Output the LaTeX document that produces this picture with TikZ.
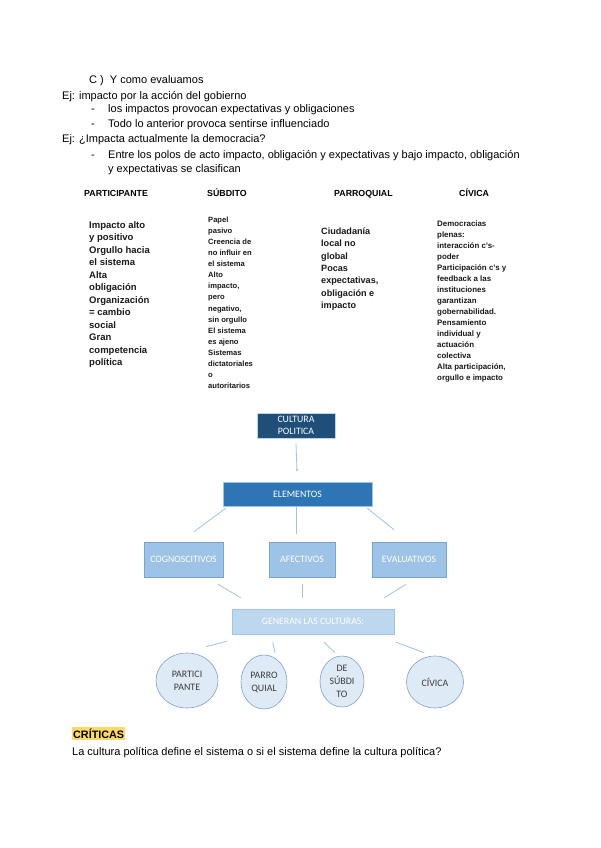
\documentclass[tikz,border=0pt]{standalone}
\usepackage{fontspec}
\setmainfont{Liberation Sans}
\newfontfamily\calibrifont{Carlito}
\usetikzlibrary{shapes.geometric,calc,arrows.meta}
\definecolor{darkbox}{RGB}{31,78,121}
\definecolor{midbox}{RGB}{46,117,182}
\definecolor{lightbox}{RGB}{157,195,230}
\definecolor{lightborder}{RGB}{120,165,210}
\definecolor{genbox}{RGB}{189,215,238}
\definecolor{ellfill}{RGB}{222,235,247}
\definecolor{ellborder}{RGB}{130,160,200}
\definecolor{connline}{RGB}{157,195,230}
\definecolor{hilite}{RGB}{255,217,102}
\definecolor{elltext}{RGB}{60,60,60}
\tikzset{
  body/.style={anchor=base west, inner sep=0pt, font=\fontsize{11pt}{13pt}\selectfont},
  head/.style={anchor=base west, inner sep=0pt, font=\fontsize{8.8pt}{10pt}\selectfont\bfseries},
  colP/.style={anchor=base west, inner sep=0pt, font=\fontsize{9.5pt}{11pt}\selectfont\bfseries, text=black!90},
  colS/.style={anchor=base west, inner sep=0pt, font=\fontsize{7.6pt}{9pt}\selectfont\bfseries, text=black!90},
  colQ/.style={anchor=base west, inner sep=0pt, font=\fontsize{9.1pt}{11pt}\selectfont\bfseries, text=black!90},
  colC/.style={anchor=base west, inner sep=0pt, font=\fontsize{7.9pt}{9pt}\selectfont\bfseries, text=black!90},
  boxtext/.style={text=white, font=\calibrifont\fontsize{9.8pt}{12pt}\selectfont, align=center, inner sep=0pt},
  elltextstyle/.style={text=elltext, font=\calibrifont\fontsize{9.9pt}{13pt}\selectfont, align=center, inner sep=0pt},
  ell/.style={ellipse, draw=ellborder, line width=0.6pt, fill=ellfill, elltextstyle},
  conn/.style={draw=connline, line width=0.8pt},
}
\begin{document}
\begin{tikzpicture}[x=1pt,y=-1pt]
\useasboundingbox[fill=white] (0,0) rectangle (600,848);
% ---- text lines ----
\node[body] (t1) at (89,84) {C )\ \ Y como evaluamos};
\node[body] (t2) at (62,100) {Ej: impacto por la acción del gobierno};
\node[body] (d1) at (91,113) {-};
\node[body] (t3) at (108,113) {los impactos provocan expectativas y obligaciones};
\node[body] (d2) at (91,127.5) {-};
\node[body] (t4) at (108,127.5) {Todo lo anterior provoca sentirse influenciado};
\node[body] (t5) at (62,142.5) {Ej: ¿Impacta actualmente la democracia?};
\node[body] (d3) at (91,158) {-};
\node[body] (t6) at (108,158) {Entre los polos de acto impacto, obligación y expectativas y bajo impacto, obligación};
\node[body] (t7) at (108,172.5) {y expectativas se clasifican};
% ---- column headers ----
\node[head] (h1) at (84,196) {PARTICIPANTE};
\node[head] (h2) at (207,196) {SÚBDITO};
\node[head] (h3) at (334,196) {PARROQUIAL};
\node[head] (h4) at (459,196) {CÍVICA};
% ---- columns ----
\foreach \t [count=\i] in {Impacto alto, y positivo, Orgullo hacia, el sistema, Alta, obligación, Organización, = cambio, social, Gran, competencia, política}
  \node[colP] (p\i) at (89,{228+12.5*(\i-1)}) {\t};
\foreach \t [count=\i] in {Papel, pasivo, Creencia de, no influir en, el sistema, Alto, {impacto,}, pero, {negativo,}, sin orgullo, El sistema, es ajeno, Sistemas, dictatoriales, o, autoritarios}
  \node[colS] (s\i) at (208,{222.5+11.07*(\i-1)}) {\t};
\foreach \t [count=\i] in {Ciudadanía, local no, global, Pocas, {expectativas,}, obligación e, impacto}
  \node[colQ] (q\i) at (321,{234.5+12.3*(\i-1)}) {\t};
\foreach \t [count=\i] in {Democracias, plenas:, interacción c's-, poder, Participación c's y, feedback a las, instituciones, garantizan, gobernabilidad., Pensamiento, individual y, actuación, colectiva, {Alta participación,}, orgullo e impacto}
  \node[colC] (c\i) at (437,{226.5+11*(\i-1)}) {\t};
% ---- diagram ----
\node[boxtext, fill=darkbox, draw=lightbox!70!white, line width=0.6pt, minimum width=78pt, minimum height=25pt] (cp) at (296,425.5) {CULTURA\\POLITICA};
\node[boxtext, fill=midbox, draw=lightbox, line width=0.6pt, minimum width=149pt, minimum height=24pt] (el) at (297.5,494) {ELEMENTOS};
\node[boxtext, fill=lightbox, draw=lightborder, line width=0.6pt, minimum width=79pt, minimum height=35pt] (cog) at (183.5,559.5) {COGNOSCITIVOS};
\node[boxtext, fill=lightbox, draw=lightborder, line width=0.6pt, minimum width=66pt, minimum height=35pt] (aff) at (302,559.5) {AFECTIVOS};
\node[boxtext, fill=lightbox, draw=lightborder, line width=0.6pt, minimum width=74pt, minimum height=35pt] (eva) at (409,559.5) {EVALUATIVOS};
\node[boxtext, fill=genbox, draw=lightbox, line width=0.6pt, minimum width=162pt, minimum height=25pt] (gen) at (313,621.5) {GENERAN LAS CULTURAS:};
\node[ell, minimum width=62pt, minimum height=55pt] (e1) at (187,680.5) {PARTICI\\PANTE};
\node[ell, minimum width=46pt, minimum height=54pt] (e2) at (264,682) {PARRO\\QUIAL};
\node[ell, minimum width=44pt, minimum height=51pt] (e3) at (342,681.5) {DE\\SÚBDI\\TO};
\node[ell, minimum width=57pt, minimum height=52pt] (e4) at (435,682) {CÍVICA};
% ---- connectors ----
\draw[conn, -{Stealth[length=3pt,width=2.5pt]}] ($(cp.south)+(0,5)$) -- ($(el.north)+(-0.5,-10)$);
\draw[conn] ($(el.south west)+(3,2)$) -- ($(cog.north)+(10.5,-10)$);
\draw[conn] ($(el.south)+(-1.5,1)$) -- ($(aff.north)+(-6,-8)$);
\draw[conn] ($(el.south east)+(-5,2)$) -- ($(eva.north)+(-15,-12)$);
\draw[conn] ($(cog.south)+(34.5,7)$) -- ($(gen.north west)+(9,-11)$);
\draw[conn] ($(aff.south)+(0,7)$) -- ($(gen.north)+(-11,-11)$);
\draw[conn] ($(eva.south)+(-3,7)$) -- ($(gen.north east)+(-10,-11)$);
\draw[conn] ($(gen.south west)+(-5,7)$) -- ($(e1.north)+(19,-6)$);
\draw[conn] ($(gen.south west)+(41,8)$) -- ($(e2.north)+(11,-2)$);
\draw[conn] ($(gen.south)+(11,8)$) -- ($(e3.north)+(-7,-3)$);
\draw[conn] ($(gen.south east)+(2,8)$) -- ($(e4.north)+(-11,-3)$);
% ---- criticas ----
\node[anchor=base west, fill=hilite, inner xsep=1pt, inner ysep=1.5pt, font=\fontsize{10.8pt}{12pt}\selectfont\bfseries] (cr) at (72,738) {CRÍTICAS};
\node[body] (t8) at (72,755) {La cultura política define el sistema o si el sistema define la cultura política?};
\end{tikzpicture}
\end{document}
